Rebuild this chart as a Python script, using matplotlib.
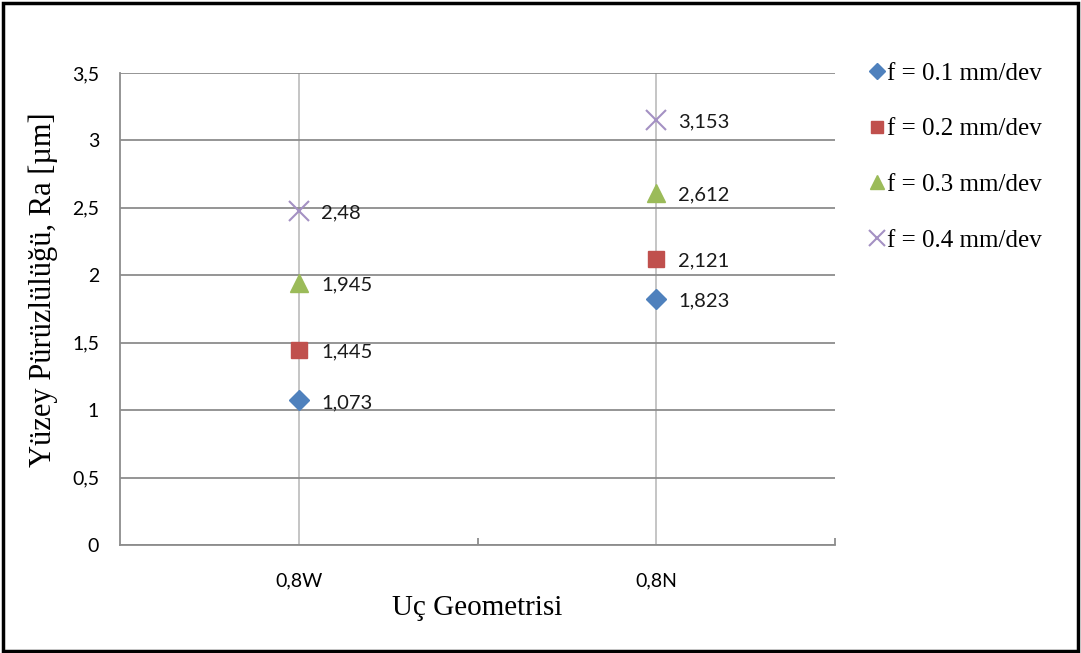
import numpy as np
import matplotlib.pyplot as plt
from matplotlib.ticker import FuncFormatter, FixedLocator
from matplotlib.patches import Rectangle

# Surface roughness by insert geometry and feed rate
geometries = ["0,8W", "0,8N"]
series_labels = ["f = 0.1 mm/dev", "f = 0.2 mm/dev", "f = 0.3 mm/dev", "f = 0.4 mm/dev"]
ra_f01 = [1.073, 1.823]
ra_f02 = [1.445, 2.121]
ra_f03 = [1.945, 2.612]
ra_f04 = [2.48, 3.153]
point_labels = [["1,073", "1,823"], ["1,445", "2,121"], ["1,945", "2,612"], ["2,48", "3,153"]]

series = [ra_f01, ra_f02, ra_f03, ra_f04]
markers = ["D", "s", "^", "x"]
colors = ["#4F81BD", "#C0504D", "#9BBB59", "#A491C3"]
sizes = [10.5, 11.5, 13, 15]

fig = plt.figure(figsize=(10.81, 6.53), dpi=100)
ax = fig.add_axes([120 / 1081, 1 - 545 / 653, 715 / 1081, 472 / 653])

x = np.arange(len(geometries))
for vals, labs, m, c, s, name in zip(series, point_labels, markers, colors, sizes, series_labels):
    if m == "x":
        ax.plot(x, vals, linestyle="none", marker=m, color=c, markersize=s,
                markeredgewidth=1.5, label=name, zorder=3)
    else:
        ax.plot(x, vals, linestyle="none", marker=m, color=c, markersize=s,
                markeredgecolor=c, label=name, zorder=3)
    for xi, v, t in zip(x, vals, labs):
        ax.annotate(t, (xi, v), xytext=(16, -1.5), textcoords="offset points",
                    va="center", ha="left", fontsize=14.5, family="Lato", color="#1a1a1a")

ax.set_xlim(-0.5, 1.5)
ax.set_ylim(0, 3.5)
ax.set_yticks(np.arange(0, 3.51, 0.5))
ax.yaxis.set_major_formatter(FuncFormatter(lambda v, p: f"{v:g}".replace(".", ",")))
ax.set_xticks(x)
ax.set_xticklabels(geometries)
ax.xaxis.set_minor_locator(FixedLocator([0.5, 1.5]))

ax.grid(axis="y", color="#8C8C8C", linewidth=1.3)
ax.grid(axis="x", which="major", color="#C0C0C0", linewidth=1.3)
ax.set_axisbelow(True)
for side in ["top", "right"]:
    ax.spines[side].set_visible(False)
for side in ["left", "bottom"]:
    ax.spines[side].set_color("#8C8C8C")
    ax.spines[side].set_linewidth(1.3)

ax.tick_params(axis="y", length=0, pad=15, labelsize=14)
ax.tick_params(axis="x", which="major", length=0, pad=20, labelsize=14)
ax.tick_params(axis="x", which="minor", direction="in", length=5, color="#8C8C8C", width=1.3)
for lab in ax.get_xticklabels() + ax.get_yticklabels():
    lab.set_family("Lato")

ax.set_xlabel("Uç Geometrisi", family="Liberation Serif", fontsize=21)
ax.set_ylabel("Yüzey Pürüzlülüğü, Ra [µm]", family="Liberation Serif", fontsize=22)
ax.xaxis.set_label_coords(0.5, -0.106)
ax.yaxis.set_label_coords(-0.087, 0.54)

fig.legend(loc="upper left", bbox_to_anchor=(861 / 1081, 1 - 52 / 653), frameon=False,
           prop={"family": "Liberation Serif", "size": 18}, handlelength=0.5,
           handletextpad=0.15, labelspacing=1.33, borderaxespad=0, markerscale=0.75)

fig.patches.append(Rectangle((0.003, 0.003), 0.994, 0.993, transform=fig.transFigure,
                             fill=False, edgecolor="black", linewidth=2.5))

fig.savefig("out.png", dpi=100)
